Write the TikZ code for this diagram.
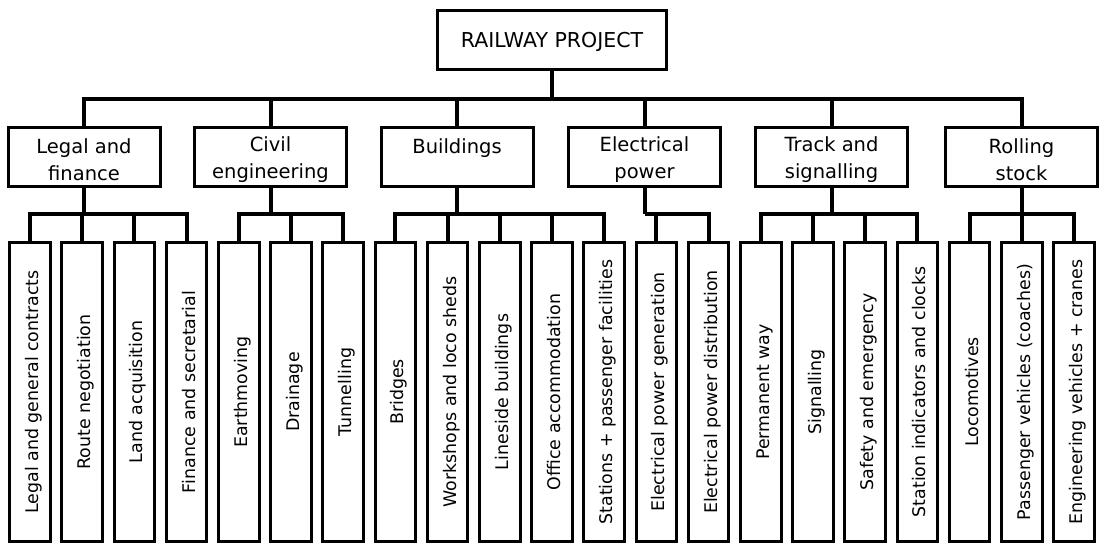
\documentclass[tikz,border=0pt]{standalone}
\usepackage{fontspec}
\usepackage{graphicx}
\setmainfont{DejaVu Sans}
\begin{document}
\begin{tikzpicture}[x=1pt,y=-1pt,
  bus/.style={line width=4pt},
  rootbox/.style={draw, line width=3pt, inner sep=0pt, minimum width=229pt, minimum height=59pt,
    font=\fontsize{20.5}{24}\selectfont, text height=15pt, text depth=0pt},
  hdrbox/.style={draw, line width=3pt, inner sep=0pt, minimum width=152pt, minimum height=59pt,
    align=center, font=\fontsize{19.5}{27}\selectfont},
  leafbox/.style={draw, line width=3pt, inner sep=0pt, minimum width=40.5pt, minimum height=299pt,
    font=\fontsize{17.4}{20}\selectfont}
]
\useasboundingbox (0,0) rectangle (1102,544);
\fill[white] (0,0) rectangle (1102,544);

\node[rootbox] (root) at (552,40) {RAILWAY PROJECT};

\node[hdrbox] (legal) at (84,157)   {\rule{0pt}{20pt}Legal and\\finance\rule[-1pt]{0pt}{1pt}};
\node[hdrbox] (civil) at (270.5,157) {\rule{0pt}{20pt}Civil\\engineering\rule[-1pt]{0pt}{1pt}};
\node[hdrbox] (build) at (457,157)  {\rule{0pt}{20pt}Buildings\\\rule[-1pt]{0pt}{1pt}};
\node[hdrbox] (elec)  at (644.5,157) {\rule{0pt}{20pt}Electrical\\power\rule[-1pt]{0pt}{1pt}};
\node[hdrbox] (track) at (831.5,157) {\rule{0pt}{20pt}Track and\\signalling\rule[-1pt]{0pt}{1pt}};
\node[hdrbox] (roll)  at (1021.5,157) {\rule{0pt}{20pt}Rolling\\stock\rule[-1pt]{0pt}{1pt}};

\foreach \t [count=\i from 0] in {Legal and general contracts, Route negotiation, Land acquisition,
  Finance and secretarial, Earthmoving, Drainage, Tunnelling, Bridges, Workshops and loco sheds,
  Lineside buildings, Office accommodation, Stations + passenger facilities,
  Electrical power generation, Electrical power distribution, Permanent way, Signalling,
  Safety and emergency, Station indicators and clocks, Locomotives,
  Passenger vehicles (coaches), Engineering vehicles + cranes}
  \node[leafbox] (l\i) at ({30+52.2*\i},392) {\rotatebox{90}{\raisebox{0pt}[17pt][0pt]{\t}}};

% top level connectors
\coordinate (top) at (552,99);
\draw[bus] (root.south) -- (top);
\foreach \h in {legal,civil,build,elec,track,roll}
  \draw[bus] (top) -| (\h.north);

% group connectors
\coordinate (bl) at (84,214);
\coordinate (bc) at (270.5,214);
\coordinate (bb) at (457,214);
\coordinate (be) at (644.5,214);
\coordinate (bt) at (831.5,214);
\coordinate (br) at (1021.5,214);
\draw[bus] (legal.south) -- (bl);
\draw[bus] (civil.south) -- (bc);
\draw[bus] (build.south) -- (bb);
\draw[bus] (elec.south) -- (be);
\draw[bus] (track.south) -- (bt);
\draw[bus] (roll.south) -- (br);
\foreach \i in {0,...,3} \draw[bus] (bl) -| (l\i.north);
\foreach \i in {4,...,6} \draw[bus] (bc) -| (l\i.north);
\foreach \i in {7,...,11} \draw[bus] (bb) -| (l\i.north);
\foreach \i in {12,13} \draw[bus] (be) -| (l\i.north);
\foreach \i in {14,...,17} \draw[bus] (bt) -| (l\i.north);
\foreach \i in {18,...,20} \draw[bus] (br) -| (l\i.north);
\end{tikzpicture}
\end{document}
